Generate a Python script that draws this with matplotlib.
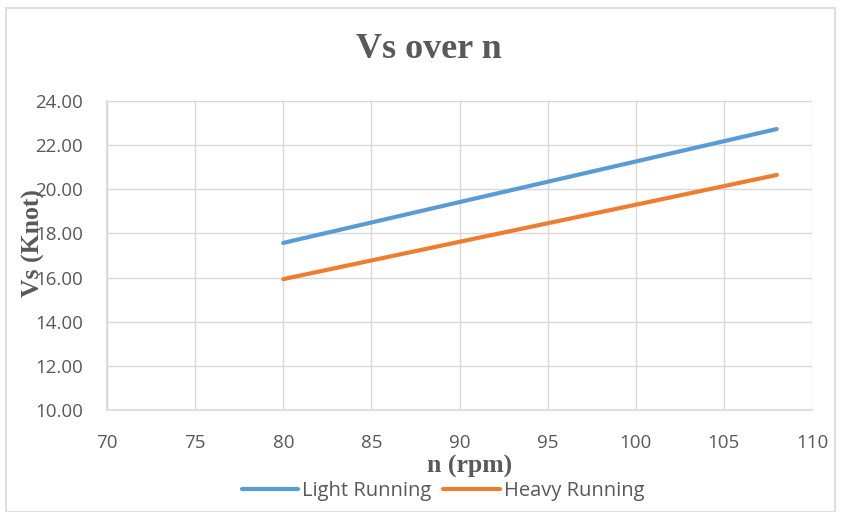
import matplotlib.pyplot as plt
from matplotlib.patches import Rectangle

n_rpm = [80, 90, 100, 108]
vs_light = [17.57, 19.42, 21.26, 22.73]
vs_heavy = [15.93, 17.62, 19.30, 20.65]

grey = '#595959'
grid_c = '#d9d9d9'

fig = plt.figure(figsize=(8.41, 5.12), dpi=100)
ax = fig.add_axes([107 / 841, 1 - 410 / 512, 705 / 841, 309 / 512])

ax.plot(n_rpm, vs_light, color='#5b9bd5', lw=3, solid_capstyle='round', label='Light Running')
ax.plot(n_rpm, vs_heavy, color='#ed7d31', lw=3, solid_capstyle='round', label='Heavy Running')

ax.set_xlim(70, 110)
ax.set_ylim(10, 24)
ax.set_xticks(range(70, 111, 5))
ax.set_yticks(range(10, 25, 2))
ax.set_yticklabels([f'{v:.2f}' for v in range(10, 25, 2)])
ax.grid(True, color=grid_c, lw=1)
ax.set_axisbelow(True)
for s in ['top', 'right']:
    ax.spines[s].set_visible(False)
for s in ['left', 'bottom']:
    ax.spines[s].set_color(grid_c)
    ax.spines[s].set_linewidth(1.2)
ax.tick_params(length=0, labelsize=13.5, labelcolor=grey, labelfontfamily='Open Sans')
ax.tick_params(axis='y', pad=17.5)
ax.tick_params(axis='x', pad=17)

fig.text(429 / 841, 1 - 50 / 512, 'Vs over n', ha='center', va='center',
         fontsize=26, fontweight='bold', family='Liberation Serif', color=grey)
fig.text(470 / 841, 1 - 466 / 512, 'n (rpm)', ha='center', va='center',
         fontsize=18.5, fontweight='bold', family='Liberation Serif', color=grey)
fig.text(33 / 841, 1 - 243 / 512, 'Vs (Knot)', ha='center', va='center', rotation=90,
         fontsize=18.5, fontweight='bold', family='Liberation Serif', color=grey)

leg = fig.legend(loc='center', bbox_to_anchor=(443 / 841, 1 - 491 / 512), ncol=2,
                 frameon=False, handlelength=2.8, handletextpad=0.2, columnspacing=0.6,
                 prop={'family': 'Open Sans', 'size': 14.5})
for t in leg.get_texts():
    t.set_color(grey)

# outer chart border
fig.patches.append(Rectangle((6 / 841, 0), 829 / 841, 1 - 8 / 512, transform=fig.transFigure,
                             fill=False, edgecolor=grid_c, lw=1.2))

fig.savefig('out.png', dpi=100)
